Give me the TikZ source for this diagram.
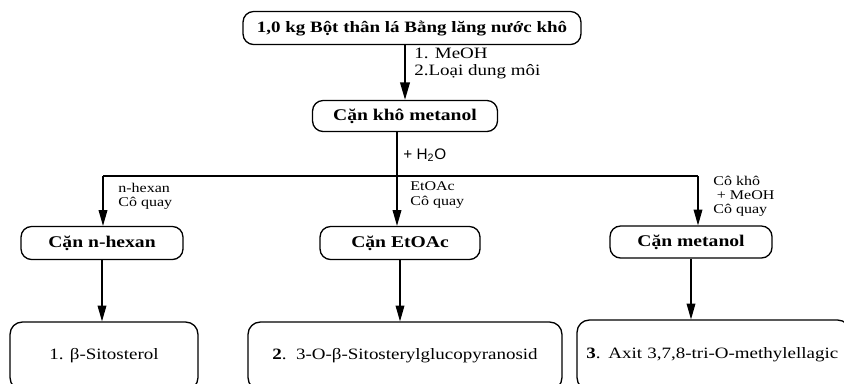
\documentclass[tikz,border=0pt]{standalone}
\usepackage{fontspec}
\setmainfont[FakeStretch=1.2]{Liberation Serif}
\newfontfamily\helv{Liberation Sans}
\usetikzlibrary{arrows.meta}
\tikzset{stepbox/.style={draw, rounded corners=6pt, line width=0.75pt, inner sep=0pt, font=\bfseries\fontsize{9.3}{11}\selectfont},
  resbox/.style={draw, rounded corners=7pt, line width=0.75pt, inner sep=0pt, font=\fontsize{9}{11}\selectfont},
  note/.style={anchor=west, align=left, inner sep=0pt, font=\fontsize{7.6}{8}\selectfont},
  flow/.style={line width=0.6pt, -{Triangle[length=9pt, width=5pt]}}}

\begin{document}
\begin{tikzpicture}[x=0.02cm, y=-0.02cm]
      \useasboundingbox (0,0) rectangle (844,383);
      \node [stepbox, minimum width=6.76cm, minimum height=0.66cm, font=\bfseries\fontsize{9}{11}\selectfont] (bot) at (412,28) {1,0 kg Bột thân lá Bằng lăng nước khô};
      \node [stepbox, minimum width=3.7cm, minimum height=0.62cm] (khometanol) at (405,116) {Cặn khô metanol};
      \node [stepbox, minimum width=3.24cm, minimum height=0.66cm] (hexan) at (102,243) {Cặn n-hexan};
      \node [stepbox, minimum width=3.2cm, minimum height=0.66cm] (etoac) at (400,243) {Cặn EtOAc};
      \node [stepbox, minimum width=3.24cm, minimum height=0.64cm] (metanol) at (691,242) {Cặn metanol};
      \node [resbox, minimum width=3.76cm, minimum height=1.36cm] (chat1) at (104,356) {1. β-Sitosterol\hspace{8pt}};
      \node [resbox, minimum width=6.28cm, minimum height=1.36cm] (chat2) at (405,356) {\textbf{2}.\ \ 3-O-β-Sitosterylglucopyranosid};
      \node [resbox, minimum width=5.46cm, minimum height=1.4cm, text width=5.3cm, align=left] (chat3) at (713.5,355) {\hspace{3pt}\textbf{3}. Axit 3,7,8-tri-O-methylellagic};
      \coordinate (tach) at (397,176);
      \coordinate (trai) at (103,176);
      \coordinate (phai) at (698,176);
      \node [note, font=\fontsize{9}{9.8}\selectfont] (dmoi) at (414,63.5) {1. MeOH\\2.Loại dung môi};
      \node [note, font=\helv\fontsize{8.7}{10}\selectfont] (nuoc) at (403,155) {+ H\textsubscript{2}O};
      \node [note] (nhex) at (118,196) {n-hexan\\Cô quay};
      \node [note] (netoac) at (410,195) {EtOAc\\Cô quay};
      \node [note] (nmet) at (713,196) {Cô khô\\\hspace{2pt}+ MeOH\\Cô quay};
      \draw [flow, line width=1.1pt, -{Triangle[length=10pt, width=5.5pt]}] (khometanol.north |- bot.south) -- (khometanol.north);
      \draw [line width=0.6pt] (khometanol.south -| tach) -- (tach);
      \draw [line width=0.6pt] (trai) -- (phai);
      \draw [flow] (trai) -- (hexan.north -| trai);
      \draw [flow] (tach) -- (etoac.north -| tach);
      \draw [flow] (phai) -- (metanol.north -| phai);
      \foreach \x/\y in {hexan/chat1, etoac/chat2, metanol/chat3} {
        \draw [flow] (\x.south) -- (\x.south |- \y.north);
      }
    \end{tikzpicture}
\end{document}
